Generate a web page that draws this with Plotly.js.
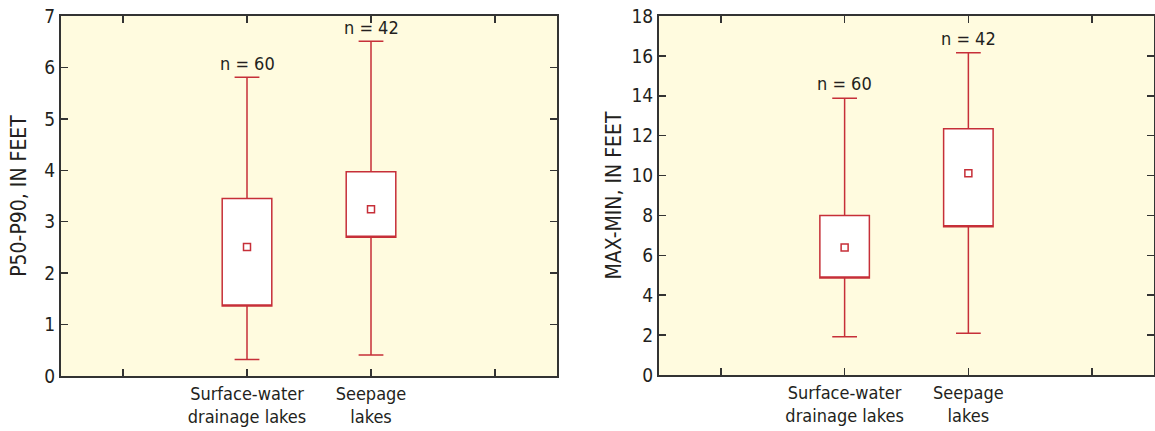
<!DOCTYPE html>
<html>
<head>
<meta charset="utf-8">
<script src="https://cdn.plot.ly/plotly-3.0.1.min.js"></script>
<style>html,body{margin:0;padding:0;background:#fff}#chart{width:1155px;height:431px}</style>
</head>
<body>
<div id="chart"></div>
<script>
// Data
const categories = ["Surface-water<br>drainage lakes", "Seepage<br>lakes"];
const categoryPos = [1, 2];
const counts = ["n = 60", "n = 42"];

// P50-P90 (feet)
const p5090Lower = [0.32, 0.41];
const p5090Q1 = [1.36, 2.70];
const p5090Q3 = [3.45, 3.97];
const p5090Upper = [5.81, 6.51];
const p5090Center = [2.51, 3.24];

// MAX-MIN (feet)
const maxminLower = [1.92, 2.09];
const maxminQ1 = [4.86, 7.43];
const maxminQ3 = [8.00, 12.35];
const maxminUpper = [13.87, 16.16];
const maxminCenter = [6.39, 10.12];

const RED = '#c62f38';
const TXT = '#231f20';
const FONT = 'Liberation Sans Narrow, DejaVu Sans Condensed, Arial Narrow, sans-serif';

function boxTrace(xa, ya, lo, q1, q3, hi) {
  return {
    type: 'box', xaxis: xa, yaxis: ya,
    x: categoryPos, q1: q1, median: q1, q3: q3,
    lowerfence: lo, upperfence: hi,
    width: 0.4, whiskerwidth: 0.5,
    fillcolor: '#ffffff',
    line: {color: RED, width: 1.5},
    boxpoints: false, hoverinfo: 'skip', showlegend: false
  };
}
function centerTrace(xa, ya, c) {
  return {
    type: 'scatter', mode: 'markers', xaxis: xa, yaxis: ya,
    x: categoryPos, y: c,
    marker: {symbol: 'square-open', size: 7, color: RED, line: {color: RED, width: 1.5}},
    hoverinfo: 'skip', showlegend: false
  };
}

const traces = [
  boxTrace('x', 'y', p5090Lower, p5090Q1, p5090Q3, p5090Upper),
  centerTrace('x', 'y', p5090Center),
  boxTrace('x2', 'y2', maxminLower, maxminQ1, maxminQ3, maxminUpper),
  centerTrace('x2', 'y2', maxminCenter)
];

const xBase = {
  range: [-0.5, 3.5], tickvals: [0, 1, 2, 3],
  ticktext: ["", categories[0], categories[1], ""],
  ticks: 'inside', ticklen: 7, tickwidth: 1.5, tickcolor: '#333',
  showline: true, linecolor: '#333', linewidth: 2, mirror: 'ticks',
  showgrid: false, zeroline: false, automargin: false,
  tickfont: {family: FONT, size: 18, color: TXT}
};
const yBase = {
  ticks: 'inside', ticklen: 7, tickwidth: 1.5, tickcolor: '#333',
  showline: true, linecolor: '#333', linewidth: 2, mirror: 'ticks',
  showgrid: false, zeroline: false, automargin: false,
  tickfont: {family: FONT, size: 19, color: TXT}
};

const annotations = [];
for (let i = 0; i < 2; i++) {
  annotations.push({xref: 'x', yref: 'y', x: categoryPos[i], y: p5090Upper[i], text: counts[i],
    showarrow: false, yanchor: 'bottom', yshift: 1, font: {family: FONT, size: 18, color: TXT}});
  annotations.push({xref: 'x2', yref: 'y2', x: categoryPos[i], y: maxminUpper[i], text: counts[i],
    showarrow: false, yanchor: 'bottom', yshift: 2, font: {family: FONT, size: 18, color: TXT}});
}

const layout = {
  width: 1155, height: 431,
  margin: {l: 0, r: 0, t: 0, b: 0},
  paper_bgcolor: '#ffffff', plot_bgcolor: '#fffbdf',
  showlegend: false,
  xaxis: Object.assign({}, xBase, {domain: [61/1155, 557/1155], anchor: 'y'}),
  yaxis: Object.assign({}, yBase, {domain: [55/431, 415/431], anchor: 'x', range: [0, 7], dtick: 1,
    title: {text: 'P50-P90, IN FEET', font: {family: FONT, size: 21, color: TXT}, standoff: 12}}),
  xaxis2: Object.assign({}, xBase, {domain: [659/1155, 1154/1155], anchor: 'y2'}),
  yaxis2: Object.assign({}, yBase, {domain: [56/431, 415/431], anchor: 'x2', range: [0, 18], dtick: 2,
    title: {text: 'MAX-MIN, IN FEET', font: {family: FONT, size: 21, color: TXT}, standoff: 4}}),
  annotations: annotations
};

Plotly.newPlot('chart', traces, layout, {displayModeBar: false, staticPlot: true});
</script>
</body>
</html>
